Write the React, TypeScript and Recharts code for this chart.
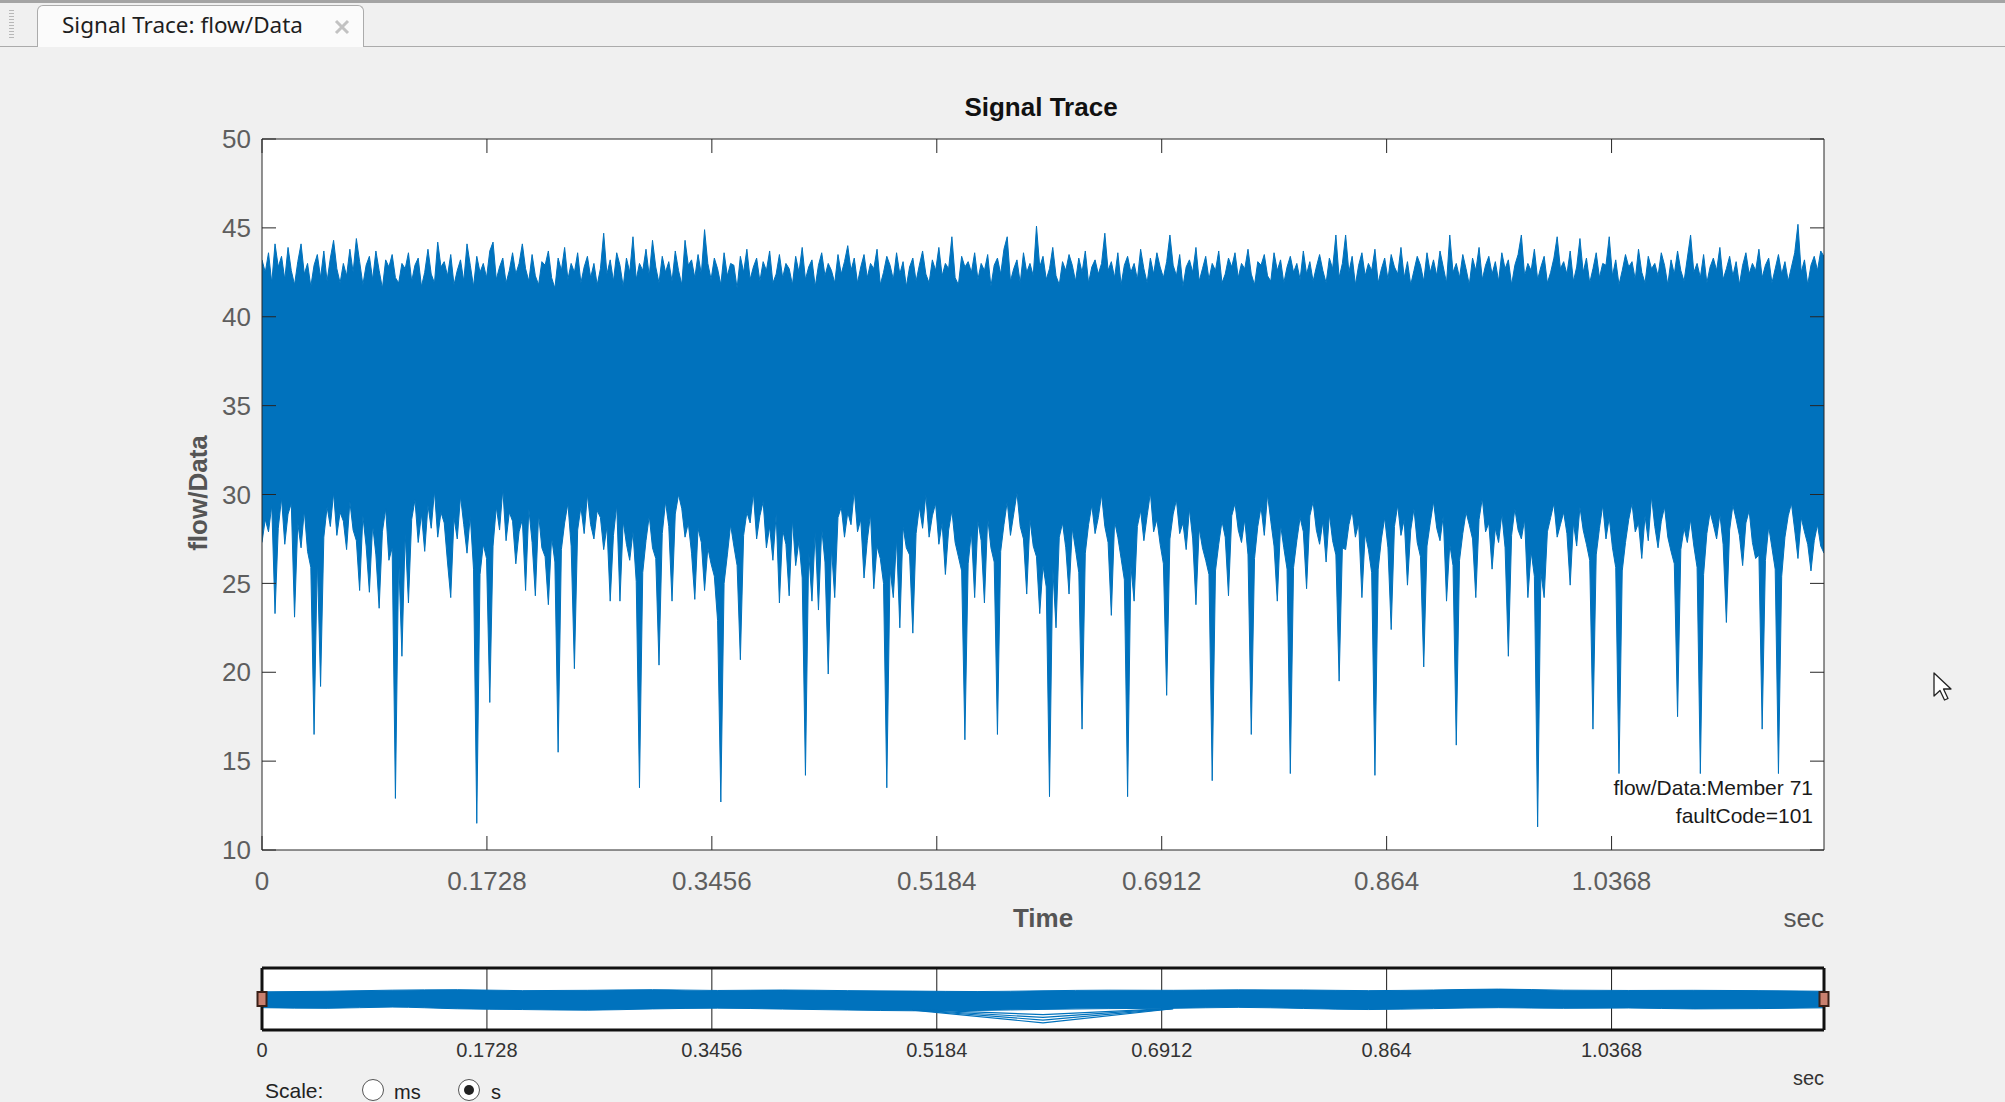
import {Area, CartesianGrid, ComposedChart, Line, Scatter, XAxis, YAxis} from "recharts";

// flow/Data trace, one sample every 2.5 ms
const SAMPLE_STEP = 0.0025;

const timeTicks = [0, 0.1728, 0.3456, 0.5184, 0.6912, 0.864, 1.0368];
const valueTicks = [10, 15, 20, 25, 30, 35, 40, 45, 50];

const upperEnv = [
    43.2, 42.5, 43.6, 41.9, 44.1, 42.8, 43.4, 42.1, 43.9, 42.6, 41.8, 43.1, 44.1, 42.4, 43.0, 41.7, 42.9, 43.5, 42.2, 43.7,
    42.0, 43.3, 44.3, 42.7, 41.9, 43.0, 42.3, 43.8, 42.5, 44.4, 43.1, 41.8, 42.9, 43.4, 42.1, 43.7, 42.6, 41.6, 43.2, 42.8,
    43.5, 42.2, 41.9, 43.0, 42.7, 43.6, 42.0, 42.9, 43.3, 41.7, 42.5, 43.8, 42.4, 41.9, 44.2, 42.8, 43.1, 42.3, 43.5, 41.8,
    42.6, 43.2, 42.0, 44.1, 42.9, 41.7, 43.4, 42.5, 43.0, 42.2, 43.7, 44.2, 42.1, 42.8, 43.3, 41.9, 42.6, 43.6, 42.4, 43.0,
    44.1, 42.7, 42.0, 43.5, 42.3, 41.8, 43.1, 42.9, 43.7, 42.2, 41.6, 43.3, 42.6, 43.9, 42.1, 43.0, 42.5, 43.6, 41.9, 42.8,
    43.4, 42.2, 43.0, 41.8, 42.7, 44.7, 42.4, 43.2, 42.0, 43.6, 42.9, 41.7, 43.3, 42.5, 44.5, 42.1, 43.0, 42.6, 43.8, 42.3,
    44.3, 42.8, 41.9, 43.4, 42.5, 43.1, 42.0, 43.7, 42.6, 41.8, 44.3, 42.9, 43.2, 42.2, 43.5, 42.4, 44.9, 43.0, 42.1, 43.3,
    42.7, 41.8, 43.6, 42.3, 43.0, 42.9, 41.6, 43.4, 42.5, 43.8, 42.1, 42.8, 43.3, 42.0, 43.1, 42.6, 43.7, 41.9, 42.4, 43.5,
    42.2, 43.0, 42.7, 41.8, 43.4, 42.5, 43.9, 42.1, 42.8, 43.2, 41.7, 42.9, 43.6, 42.3, 43.0, 42.6, 41.9, 43.5, 42.4, 43.1,
    44.0, 42.6, 43.3, 41.9, 42.8, 43.5, 42.2, 43.0, 42.7, 43.8, 41.8, 42.5, 43.4, 42.9, 42.1, 43.6, 42.4, 43.1, 41.7, 42.8,
    43.3, 42.0, 42.9, 43.7, 42.4, 41.9, 43.2, 42.6, 43.9, 42.3, 43.0, 42.7, 44.5, 42.2, 41.8, 43.4, 42.8, 43.1, 42.5, 43.6,
    42.1, 43.0, 42.6, 43.5, 41.7, 42.9, 43.3, 42.4, 43.8, 44.5, 42.0, 42.7, 43.2, 41.9, 43.6, 42.5, 43.0, 42.3, 45.1, 42.8,
    43.4, 42.1, 42.7, 43.9, 42.3, 41.8, 43.1, 42.6, 43.5, 42.9, 42.0, 43.3, 42.5, 43.7, 41.9, 42.8, 43.2, 42.4, 43.0, 44.7,
    42.6, 43.1, 42.2, 43.6, 41.8, 42.9, 43.4, 42.5, 43.0, 42.1, 43.8, 42.7, 41.9, 43.3, 42.4, 43.6, 42.8, 42.2, 43.1, 44.6,
    42.9, 42.3, 43.5, 41.7, 42.8, 43.2, 42.5, 43.9, 42.0, 42.7, 43.4, 42.1, 43.0, 42.6, 43.7, 41.9, 42.4, 43.3, 42.8, 43.6,
    42.2, 43.0, 42.7, 43.8, 42.4, 41.8, 43.1, 42.9, 43.5, 42.3, 42.0, 43.6, 42.6, 43.2, 41.9, 42.8, 43.4, 42.5, 43.0, 42.1,
    43.7, 42.4, 43.1, 42.0, 42.8, 43.5, 42.6, 41.9, 43.3, 42.7, 44.6, 42.2, 43.0, 44.6, 42.5, 43.4, 41.8, 42.9, 43.6, 42.3,
    43.0, 42.6, 43.8, 41.9, 42.7, 43.3, 42.1, 43.5, 42.8, 42.4, 43.9, 42.2, 43.1, 41.8, 42.6, 43.4, 42.9, 42.0, 43.6, 42.5,
    43.2, 42.3, 43.7, 42.8, 41.9, 44.6, 42.5, 43.0, 42.2, 43.5, 42.7, 41.8, 43.3, 42.6, 43.9, 42.1, 42.9, 43.4, 42.4, 43.1,
    42.0, 43.6, 42.7, 43.2, 41.8, 42.9, 43.5, 44.6, 42.3, 43.0, 42.6, 43.8, 42.1, 42.8, 43.4, 41.9, 42.5, 43.3, 44.5, 42.7,
    43.1, 42.4, 43.7, 42.0, 42.8, 44.4, 42.5, 43.3, 41.9, 42.7, 43.6, 42.2, 43.0, 42.9, 44.5, 42.3, 43.2, 41.8, 42.6, 43.5,
    42.8, 43.1, 42.1, 43.8, 42.5, 41.9, 43.4, 42.7, 43.0, 42.3, 43.6, 42.9, 41.8, 43.2, 42.4, 43.7, 42.6, 42.0, 43.3, 44.6,
    42.5, 43.0, 42.2, 43.5, 41.9, 42.8, 43.3, 42.6, 43.9, 42.1, 42.7, 43.4, 42.3, 43.1, 41.8, 42.9, 43.6, 42.4, 43.0, 42.6,
    43.8, 42.2, 42.9, 43.3, 41.9, 42.7, 43.5, 42.4, 43.1, 42.0, 42.8, 43.6, 45.2, 42.5, 43.2, 41.8, 42.9, 43.4, 42.6, 43.7,
    43.4,
];

const lowerEnv = [
    27.3, 28.6, 27.9, 29.4, 23.3, 28.1, 29.8, 27.2, 28.9, 29.5, 23.1, 28.4, 27.0, 29.1, 26.8, 25.9, 16.5, 26.4, 19.2, 27.6,
    29.3, 28.2, 30.1, 27.7, 29.0, 28.5, 26.9, 29.6, 28.0, 27.4, 24.6, 28.8, 27.1, 24.5, 28.3, 26.6, 23.6, 27.9, 29.2, 26.3,
    27.0, 12.9, 26.5, 20.9, 27.8, 23.9, 28.6, 29.7, 27.3, 28.9, 26.8, 29.4, 28.1, 30.2, 27.6, 29.0, 28.4, 26.2, 24.2, 28.7,
    27.5, 29.9, 28.3, 26.7, 28.8, 25.8, 11.5, 25.5, 27.2, 26.4, 18.3, 27.1, 29.3, 28.0, 30.3, 27.4, 29.0, 28.5, 26.1, 27.9,
    28.6, 24.6, 29.2, 27.3, 24.3, 28.9, 27.0, 26.5, 23.8, 27.6, 26.2, 15.5, 26.9, 28.4, 29.5, 27.1, 20.2, 28.0, 29.3, 27.8,
    30.0, 28.3, 27.5, 29.1, 28.7, 26.9, 28.2, 24.0, 27.7, 29.4, 24.0, 28.5, 27.2, 26.3, 27.9, 25.1, 13.5, 25.6, 27.4, 28.8,
    27.0, 26.4, 20.4, 27.8, 29.6, 28.2, 24.0, 28.9, 30.0, 29.2, 27.6, 28.4, 26.7, 24.1, 28.1, 27.3, 24.6, 27.0, 26.1, 25.4,
    22.9, 12.7, 25.0, 26.6, 28.3, 27.1, 26.0, 20.7, 27.7, 29.0, 28.4, 30.1, 27.5, 28.8, 29.6, 27.0, 28.2, 26.3, 28.9, 23.9,
    28.0, 27.2, 24.3, 28.6, 26.0, 27.4, 25.3, 14.2, 26.8, 24.0, 27.9, 23.5, 28.1, 26.2, 19.9, 27.0, 24.2, 28.7, 29.3, 27.6,
    29.0, 28.3, 30.2, 27.9, 28.6, 25.3, 27.4, 28.9, 24.7, 27.1, 26.4, 25.0, 13.5, 25.8, 24.2, 27.5, 22.5, 28.2, 27.0, 26.6,
    22.2, 27.8, 29.3, 28.1, 30.0, 27.6, 28.8, 29.5, 27.2, 28.4, 25.5, 28.0, 29.1, 27.3, 26.5, 25.7, 16.2, 26.1, 27.9, 24.2,
    28.5, 27.4, 23.9, 28.7, 27.0, 26.2, 16.5, 26.8, 28.3, 29.6, 27.7, 28.9, 30.1, 28.2, 27.5, 24.4, 28.6, 27.1, 26.5, 23.3,
    26.0, 24.8, 13.0, 25.9, 22.5, 27.6, 28.4, 27.0, 24.4, 28.1, 26.9, 25.6, 16.8, 26.7, 28.3, 29.4, 27.8, 28.7, 30.0, 28.2,
    27.3, 23.2, 28.5, 27.6, 26.4, 25.2, 13.0, 26.0, 24.0, 28.2, 29.1, 27.4, 28.8, 30.1, 27.9, 28.6, 27.2, 26.1, 18.7, 27.5,
    28.9, 29.7, 27.8, 28.4, 26.9, 29.2, 27.5, 23.8, 28.1, 27.0, 26.3, 25.5, 13.9, 25.7, 27.2, 28.5, 27.6, 24.3, 28.8, 29.5,
    28.0, 27.3, 28.6, 26.6, 16.5, 26.4, 28.2, 29.3, 27.7, 30.0, 28.5, 27.1, 24.0, 28.3, 27.0, 25.8, 14.3, 25.9, 27.4, 28.7,
    27.9, 24.7, 28.8, 29.6, 28.0, 27.2, 28.5, 26.2, 28.9, 27.4, 26.6, 19.5, 27.0, 26.9, 28.3, 29.1, 27.6, 28.4, 24.2, 27.8,
    26.9, 25.6, 14.2, 25.8, 27.5, 28.7, 27.0, 22.4, 28.2, 29.4, 27.7, 28.6, 24.9, 28.0, 29.2, 27.3, 26.5, 20.3, 27.1, 28.4,
    29.6, 28.1, 27.4, 28.8, 24.0, 27.2, 26.0, 15.9, 26.3, 27.8, 29.0, 28.3, 27.5, 24.2, 28.6, 29.8, 27.9, 28.4, 25.8, 28.1,
    27.3, 28.9, 27.0, 20.9, 27.7, 29.2, 28.0, 27.5, 28.6, 24.2, 26.8, 25.4, 11.3, 25.6, 24.2, 27.9, 28.7, 29.5, 27.6, 28.3,
    29.0, 27.8, 24.9, 28.4, 27.1, 29.3, 28.0, 27.2, 26.3, 16.8, 26.6, 28.1, 29.4, 27.5, 28.7, 27.0, 25.9, 14.3, 25.7, 27.3,
    28.6, 29.5, 27.9, 28.4, 26.4, 28.8, 27.4, 29.9, 28.2, 27.0, 28.5, 29.3, 27.6, 26.8, 26.1, 17.5, 26.9, 28.1, 27.3, 28.6,
    27.1, 25.9, 14.3, 25.5, 27.8, 29.0, 28.3, 27.5, 28.9, 27.2, 22.8, 28.0, 29.4, 28.6, 27.7, 26.0, 28.4, 29.1, 27.3, 26.4,
    26.6, 16.8, 26.3, 28.2, 27.0, 25.8, 14.3, 25.4, 27.6, 28.8, 29.5, 28.0, 26.4, 28.7, 27.9, 27.2, 25.7, 27.4, 28.3, 27.1,
    26.7,
];

// overview strip (decimated)
const navTimes = [0, 0.05, 0.1, 0.15, 0.2, 0.25, 0.3, 0.35, 0.4, 0.45, 0.5, 0.55, 0.6, 0.65, 0.7, 0.75, 0.8, 0.85, 0.9, 0.95, 1.0, 1.05, 1.1, 1.15, 1.2];
const navUpper = [39.6, 40.0, 40.7, 41.0, 40.4, 40.6, 41.0, 40.5, 40.8, 40.4, 40.1, 39.8, 40.3, 40.7, 40.6, 40.9, 40.8, 40.4, 40.8, 41.4, 40.7, 40.5, 40.6, 40.4, 40.0];
const navLower = [29.4, 29.0, 29.8, 28.7, 28.2, 27.8, 28.6, 29.1, 28.5, 27.9, 27.4, 27.6, 28.3, 28.8, 29.0, 29.6, 28.9, 28.2, 28.8, 29.4, 29.0, 29.2, 28.6, 28.8, 29.3];
const dipTimes = [0.5, 0.6, 0.7];
const dipA = [27.8, 19.6, 28.7];
const dipB = [27.9, 21.4, 28.8];
const dipC = [28.0, 23.1, 28.9];
const dipD = [28.1, 24.9, 29.0];

const TRACE = "#0072BD";
const AXIS = "#262626";
const TICK_TEXT = "#5e5e5e";
const FRAME = "#111";
const FONT = "'Liberation Sans', Arial, Helvetica, sans-serif";

const trace = upperEnv.map((hi, i) => ({t: i * SAMPLE_STEP, hi, lo: lowerEnv[i]}));

const navRows = navTimes.map((t, i) => {
    const k = dipTimes.indexOf(t);
    return {
        t,
        hi: navUpper[i],
        lo: navLower[i],
        dipA: k >= 0 ? dipA[k] : null,
        dipB: k >= 0 ? dipB[k] : null,
        dipC: k >= 0 ? dipC[k] : null,
        dipD: k >= 0 ? dipD[k] : null,
    };
});

const handles = [{t: 0, v: 35}, {t: 1.2, v: 35}];

const Handle = (props: any) => (
    <rect x={props.cx - 4.5} y={props.cy - 7} width={9} height={14} fill="#c9806f" stroke="#3a2018" strokeWidth={2}/>
);

const blank = () => "";

const abs = (left: number, top: number, extra: any = {}) => ({position: "absolute" as const, left, top, ...extra});

const Radio = ({left, checked}: { left: number, checked?: boolean }) => (
    <div style={abs(left - 11, 1079, {
        width: 22, height: 22, borderRadius: "50%", border: "1px solid #555", background: "#fff",
        boxSizing: "border-box",
    })}>
        {checked && <div style={{width: 10, height: 10, borderRadius: "50%", background: "#222", margin: "5px auto 0"}}/>}
    </div>
);

export default function App() {
    return (
        <div style={{
            position: "absolute", left: 0, top: 0, width: 2005, height: 1102, overflow: "hidden",
            background: "#f0f0f0", fontFamily: FONT,
        }}>
            {/* tab strip */}
            <div style={abs(0, 0, {width: 2005, height: 3, background: "#a4a4a4"})}/>
            <div style={abs(9, 10, {
                width: 5, height: 30,
                background: "repeating-linear-gradient(#b8b8b8 0 1px, transparent 1px 3px)",
            })}/>
            <div style={abs(0, 46, {width: 2005, height: 1, background: "#ababab"})}/>
            <div style={abs(37, 5, {
                width: 327, height: 42, background: "#fbfbfb", border: "1px solid #ababab",
                borderBottom: "none", borderRadius: "6px 6px 0 0", boxSizing: "border-box",
            })}/>
            <div style={abs(62, 11, {
                fontFamily: "'Noto Sans', sans-serif", fontSize: 22.5, lineHeight: "28px", color: "#1e1e1e",
                whiteSpace: "nowrap",
            })}>Signal Trace: flow/Data
            </div>
            <svg style={abs(334, 19)} width={16} height={16}>
                <path d="M2 2 L14 14 M14 2 L2 14" stroke="#c2c2c2" strokeWidth={3}/>
            </svg>

            {/* main axes */}
            <div style={abs(1041, 94, {
                transform: "translateX(-50%)", fontSize: 26, lineHeight: 1, fontWeight: "bold", color: "#111",
                whiteSpace: "nowrap",
            })}>Signal Trace
            </div>
            <div style={abs(0, 0)}>
                <ComposedChart width={2005} height={900} data={trace}
                               margin={{top: 138, right: 180, bottom: 0, left: 202}}>
                    <CartesianGrid fill="#ffffff" horizontal={false} vertical={false}/>
                    <Area dataKey={(d: any) => [d.lo, d.hi]} type="linear" stroke={TRACE} strokeWidth={1}
                          fill={TRACE} fillOpacity={1} dot={false} activeDot={false} isAnimationActive={false}/>
                    <XAxis dataKey="t" type="number" domain={[0, 1.2]} ticks={timeTicks} interval={0} height={50}
                           tickSize={-14} tickMargin={36} axisLine={{stroke: AXIS}} tickLine={{stroke: AXIS}}
                           tick={{fill: TICK_TEXT, fontSize: 26, fontFamily: FONT}}
                           tickFormatter={(v: number) => String(v)} allowDataOverflow/>
                    <XAxis xAxisId="top" orientation="top" dataKey="t" type="number" domain={[0, 1.2]}
                           ticks={timeTicks} interval={0} height={1} tickSize={-14} axisLine={{stroke: AXIS}}
                           tickLine={{stroke: AXIS}} tickFormatter={blank} allowDataOverflow/>
                    <YAxis type="number" domain={[10, 50]} ticks={valueTicks} interval={0} width={60}
                           tickSize={-14} tickMargin={25} axisLine={{stroke: AXIS}} tickLine={{stroke: AXIS}}
                           tick={{fill: TICK_TEXT, fontSize: 26, fontFamily: FONT}} allowDataOverflow/>
                    <YAxis yAxisId="right" orientation="right" type="number" domain={[10, 50]} ticks={valueTicks}
                           interval={0} width={1} tickSize={-14} axisLine={{stroke: AXIS}}
                           tickLine={{stroke: AXIS}} tickFormatter={blank} allowDataOverflow/>
                </ComposedChart>
            </div>
            <div style={abs(198, 493, {
                transform: "translate(-50%, -50%) rotate(-90deg)", fontSize: 26, lineHeight: 1,
                fontWeight: "bold", color: "#555", whiteSpace: "nowrap",
            })}>flow/Data
            </div>
            <div style={abs(1043, 905, {
                transform: "translateX(-50%)", fontSize: 26, lineHeight: 1, fontWeight: "bold", color: "#555",
            })}>Time
            </div>
            <div style={abs(1724, 905, {
                width: 100, textAlign: "right", fontSize: 26, lineHeight: 1, color: "#555",
            })}>sec
            </div>
            <div style={abs(1513, 774, {
                width: 300, textAlign: "right", fontSize: 21, lineHeight: "28px", color: "#1a1a1a",
            })}>
                <div>flow/Data:Member 71</div>
                <div>faultCode=101</div>
            </div>

            {/* overview strip */}
            <div style={abs(0, 949)}>
                <ComposedChart width={2005} height={153} data={navRows}
                               margin={{top: 18, right: 180, bottom: 22, left: 261}}>
                    <CartesianGrid fill="#ffffff" horizontal={false} stroke="#1a1a1a"/>
                    <Area dataKey={(d: any) => [d.lo, d.hi]} type="monotone" stroke={TRACE} strokeWidth={1}
                          fill={TRACE} fillOpacity={1} dot={false} activeDot={false} isAnimationActive={false}/>
                    <Line dataKey="dipA" connectNulls stroke={TRACE} strokeWidth={1.2} dot={false}
                          isAnimationActive={false}/>
                    <Line dataKey="dipB" connectNulls stroke={TRACE} strokeWidth={1.2} dot={false}
                          isAnimationActive={false}/>
                    <Line dataKey="dipC" connectNulls stroke={TRACE} strokeWidth={1.2} dot={false}
                          isAnimationActive={false}/>
                    <Line dataKey="dipD" connectNulls stroke={TRACE} strokeWidth={1.2} dot={false}
                          isAnimationActive={false}/>
                    <XAxis dataKey="t" type="number" domain={[0, 1.2]} ticks={timeTicks} interval={0} height={50}
                           tickSize={0} tickMargin={13} axisLine={{stroke: FRAME, strokeWidth: 3}} tickLine={false}
                           tick={{fill: "#333", fontSize: 20, fontFamily: FONT}}
                           tickFormatter={(v: number) => String(v)}/>
                    <XAxis xAxisId="top" orientation="top" dataKey="t" type="number" domain={[0, 1.2]}
                           ticks={timeTicks} interval={0} height={1} tickSize={0}
                           axisLine={{stroke: FRAME, strokeWidth: 3}} tickLine={false} tickFormatter={blank}/>
                    <YAxis type="number" domain={[15, 55]} ticks={[15, 55]} width={1} tickSize={0}
                           axisLine={{stroke: FRAME, strokeWidth: 3}} tickLine={false} tickFormatter={blank}/>
                    <YAxis yAxisId="right" orientation="right" type="number" domain={[15, 55]} ticks={[15, 55]}
                           width={1} tickSize={0} axisLine={{stroke: FRAME, strokeWidth: 3}} tickLine={false}
                           tickFormatter={blank}/>
                    <Scatter data={handles} dataKey="v" shape={Handle} isAnimationActive={false}/>
                </ComposedChart>
            </div>
            <div style={abs(1724, 1068, {
                width: 100, textAlign: "right", fontSize: 20, lineHeight: 1, color: "#333",
            })}>sec
            </div>
            <div style={abs(265, 1080, {fontSize: 21, lineHeight: 1, color: "#222"})}>Scale:</div>
            <Radio left={373}/>
            <div style={abs(394, 1082, {fontSize: 20, lineHeight: 1, color: "#222"})}>ms</div>
            <Radio left={469} checked/>
            <div style={abs(491, 1082, {fontSize: 20, lineHeight: 1, color: "#222"})}>s</div>

            {/* mouse pointer */}
            <svg style={abs(1932, 671)} width={24} height={34}>
                <path d="M2 2 L2 25 L8 19.5 L12.5 29 L16 27.5 L11.5 18 L19 18 Z" fill="#fff" stroke="#222"
                      strokeWidth={1.3} strokeLinejoin="round"/>
            </svg>
        </div>
    );
}
